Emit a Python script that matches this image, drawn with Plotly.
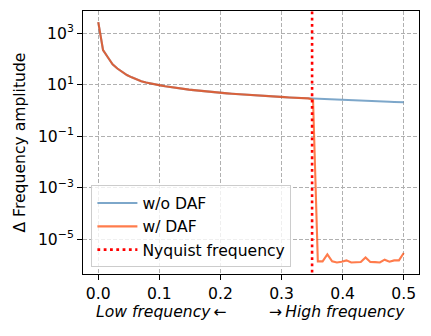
import plotly.graph_objects as go

# ---- data ----
freq_index = list(range(65))           # frequency bins k, f = k/128
n_fft = 128
freqs = [k / n_fft for k in freq_index]

amp_without_daf = [
    2750, 224, 118, 62, 43, 31, 24, 19.5, 16, 13.8,
    12.2, 11.0, 10.2, 9.5, 8.8, 8.2, 7.7, 7.3, 6.9, 6.5,
    6.2, 5.9, 5.6, 5.4, 5.2, 5.0, 4.8, 4.65, 4.5, 4.35,
    4.2, 4.08, 3.96, 3.85, 3.75, 3.65, 3.55, 3.46, 3.38, 3.3,
    3.22, 3.15, 3.08, 3.01, 2.95, 2.89, 2.83, 2.77, 2.72, 2.67,
    2.62, 2.57, 2.52, 2.48, 2.44, 2.40, 2.36, 2.32, 2.28, 2.25,
    2.21, 2.18, 2.15, 2.12, 2.08,
]

amp_with_daf = [
    2750, 224, 118, 62, 43, 31, 24, 19.5, 16, 13.8,
    12.2, 11.0, 10.2, 9.5, 8.8, 8.2, 7.7, 7.3, 6.9, 6.5,
    6.2, 5.9, 5.6, 5.4, 5.2, 5.0, 4.8, 4.65, 4.5, 4.35,
    4.2, 4.08, 3.96, 3.85, 3.75, 3.65, 3.55, 3.46, 3.38, 3.3,
    3.22, 3.15, 3.08, 3.01, 2.95, 2.6,
    1.35e-6, 1.35e-6, 2.52e-6, 1.35e-6, 1.23e-6, 1.31e-6, 1.48e-6, 1.23e-6, 1.26e-6,
    1.28e-6, 1.93e-6, 1.28e-6, 1.26e-6, 1.23e-6, 1.57e-6, 1.31e-6, 1.48e-6, 1.48e-6,
    2.86e-6,
]

nyquist = 0.35

x_ticks = [0.0, 0.1, 0.2, 0.3, 0.4, 0.5]
x_tick_labels = ["0.0", "0.1", "0.2", "0.3", "0.4", "0.5"]
y_ticks = [1e3, 1e1, 1e-1, 1e-3, 1e-5]
y_tick_labels = ["10<sup>3</sup>", "10<sup>1</sup>", "10<sup>\u22121</sup>",
                 "10<sup>\u22123</sup>", "10<sup>\u22125</sup>"]

FONT = "DejaVu Sans"
FS = 15.6

fig = go.Figure()
fig.add_trace(go.Scatter(
    x=freqs, y=amp_without_daf, mode="lines", name="w/o DAF", legendgroup="a",
    line=dict(color="rgba(70,130,180,0.7)", width=2.1),
))
fig.add_trace(go.Scatter(
    x=freqs, y=amp_with_daf, mode="lines", name="w/ DAF", legendgroup="b",
    line=dict(color="rgba(255,69,0,0.7)", width=2.1),
))
fig.add_trace(go.Scatter(
    x=[nyquist, nyquist], y=[1e-9, 1e6], mode="lines", name="Nyquist frequency",
    legendgroup="c",
    line=dict(color="red", width=2.6, dash="2.8px,3.5px"),
))

axis_common = dict(
    showline=True, linecolor="black", linewidth=1.1, mirror=True,
    ticks="outside", ticklen=5, tickwidth=1.1, tickcolor="black",
    showgrid=True, gridcolor="#b0b0b0", gridwidth=1.1, griddash="4px,2px",
    zeroline=False,
    tickfont=dict(family=FONT, size=FS, color="black"),
)

fig.update_xaxes(
    range=[-0.025, 0.525], tickvals=x_ticks, ticktext=x_tick_labels, **axis_common,
)
fig.update_yaxes(
    type="log", range=[-6.36, 3.87], tickvals=y_ticks, ticktext=y_tick_labels,
    **axis_common,
)

# the page body adds an 8px margin, so the figure is drawn 8px smaller
fig.update_layout(
    width=423, height=328,
    margin=dict(l=75, r=12, t=3, b=62, autoexpand=False),
    paper_bgcolor="white", plot_bgcolor="white",
    font=dict(family=FONT, size=FS, color="black"),
    showlegend=True,
    legend=dict(
        x=0.025, y=0.025, xanchor="left", yanchor="bottom",
        bgcolor="rgba(255,255,255,0.8)", bordercolor="#cccccc", borderwidth=1,
        font=dict(family=FONT, size=FS, color="black"),
        itemwidth=40, tracegroupgap=0,
    ),
    annotations=[
        dict(text="\u0394 Frequency amplitude", xref="paper", yref="paper",
             x=0, y=0.5, xshift=-64, textangle=-90, showarrow=False,
             xanchor="center", yanchor="middle",
             font=dict(family=FONT, size=FS, color="black")),
        dict(text="<i>Low frequency</i>\u2009\u2190", xref="paper", yref="paper",
             x=0.234, y=-0.143, showarrow=False, xanchor="center", yanchor="middle",
             font=dict(family=FONT, size=FS, color="black")),
        dict(text="\u2192\u2009<i>High frequency</i>", xref="paper", yref="paper",
             x=0.757, y=-0.143, showarrow=False, xanchor="center", yanchor="middle",
             font=dict(family=FONT, size=FS, color="black")),
    ],
)

fig.write_html("out.html")
